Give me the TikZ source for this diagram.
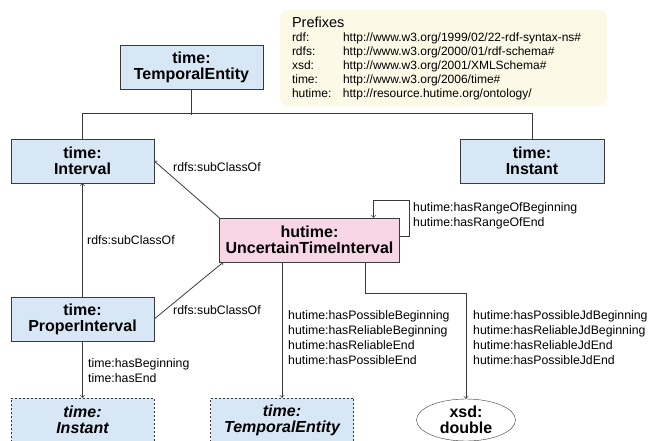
\documentclass[tikz,border=0pt]{standalone}
\usepackage{fontspec}
\setmainfont{Liberation Sans}
\usepackage{tikz}
\usepackage{xcolor}
\usetikzlibrary{shapes.geometric}
\definecolor{ClasseBleu}{HTML}{D8E7F5}
\definecolor{ClasseRose}{HTML}{F8D6E5}
\definecolor{FondPrefixe}{HTML}{FCFAE6}
\definecolor{Trait}{HTML}{3A3A3A}
\tikzset{
Classe/.style={
 draw=Trait, 
 fill=ClasseBleu, 
 minimum width=143pt, 
 minimum height=44pt, 
 align=center, 
 inner sep=0pt, 
 font=\fontsize{16}{16}\selectfont\bfseries
 },
ClasseHut/.style={
 Classe, 
 fill=ClasseRose, 
 minimum width=180pt
 },
ClasseExt/.style={
 Classe, 
 dash pattern=on 2pt off 2pt, 
 font=\fontsize{16}{16}\selectfont\bfseries\itshape
 },
Litteral/.style={
 draw=Trait, 
 fill=white, 
 ellipse, 
 minimum width=99pt, 
 minimum height=42pt, 
 inner sep=0pt, 
 align=center, 
 font=\fontsize{16}{16}\selectfont\bfseries
 },
Etiq/.style={
 anchor=west, 
 inner sep=0pt, 
 align=left, 
 font=\fontsize{12.3}{15}\selectfont
 },
Prefixe/.style={
 fill=FondPrefixe, 
 rounded corners=8pt, 
 minimum width=327pt, 
 minimum height=96pt, 
 text width=303pt, 
 align=left, 
 inner sep=0pt, 
 font=\fontsize{12}{14}\selectfont
 },
Arbre/.style={
 draw=Trait, 
 line width=0.8pt
 },
Lien/.style={
 draw=Trait, 
 line width=0.8pt, 
 -{to[scale=1.4]}
 }
}

\begin{document}
\begin{tikzpicture}[x=1pt,y=-1pt]
\useasboundingbox (0,0) rectangle (651,440);
% prefixes
\node[Prefixe] (pfx) at (443.5,58) {{\fontsize{14.5}{15}\selectfont Prefixes}\\
\makebox[51pt][l]{rdf:}http://www.w3.org/1999/02/22-rdf-syntax-ns\#\\
\makebox[51pt][l]{rdfs:}http://www.w3.org/2000/01/rdf-schema\#\\
\makebox[51pt][l]{xsd:}http://www.w3.org/2001/XMLSchema\#\\
\makebox[51pt][l]{time:}http://www.w3.org/2006/time\#\\
\makebox[51pt][l]{hutime:}http://resource.hutime.org/ontology/};
% classes
\node[Classe] (te) at (191.5,67.5) {time:\\TemporalEntity};
\node[Classe] (int) at (82.5,161) {time:\\Interval};
\node[Classe, minimum width=144pt] (inst) at (532,161) {time:\\Instant};
\node[ClasseHut] (uti) at (309.5,240) {hutime:\\UncertainTimeInterval};
\node[Classe] (pint) at (82.5,319) {time:\\ProperInterval};
\node[ClasseExt] (instx) at (82.5,420) {time:\\Instant};
\node[ClasseExt] (tex) at (282,420) {time:\\TemporalEntity};
\node[Litteral] (dbl) at (466,420) {xsd:\\double};
% arbre
\draw[Arbre] (te.south) -- ++(0,25);
\draw[Arbre] (int.north) -- ++(0,-25) -| (inst.north);
% liens
\draw[Lien] (uti.north west) -- (int.east);
\draw[Lien] (pint) -- (int);
\draw[Lien] (pint.east) -- ([xshift=4pt]uti.south west);
\draw[Lien] (pint) -- (instx);
\draw[Lien] (uti.south -| tex.north) -- (tex.north);
\draw[Lien] ([xshift=56pt]uti.south) -- ++(0,31) -| (dbl.north);
\coordinate (boucle) at (409,200);
\draw[Lien] ([yshift=4pt]uti.east) -| (boucle) -| ([xshift=64pt]uti.north);
% etiquettes
\node[Etiq] (l1) at (173,167) {rdfs:subClassOf};
\node[Etiq] (l2) at (87,240) {rdfs:subClassOf};
\node[Etiq] (l3) at (173,310) {rdfs:subClassOf};
\node[Etiq] (l4) at (88,370.5) {time:hasBeginning\\time:hasEnd};
\node[Etiq] (l5) at (413,215.5) {hutime:hasRangeOfBeginning\\hutime:hasRangeOfEnd};
\node[Etiq] (l6) at (288,337.5) {hutime:hasPossibleBeginning\\hutime:hasReliableBeginning\\hutime:hasReliableEnd\\hutime:hasPossibleEnd};
\node[Etiq] (l7) at (473,337.5) {hutime:hasPossibleJdBeginning\\hutime:hasReliableJdBeginning\\hutime:hasReliableJdEnd\\hutime:hasPossibleJdEnd};
\end{tikzpicture}
\end{document}
